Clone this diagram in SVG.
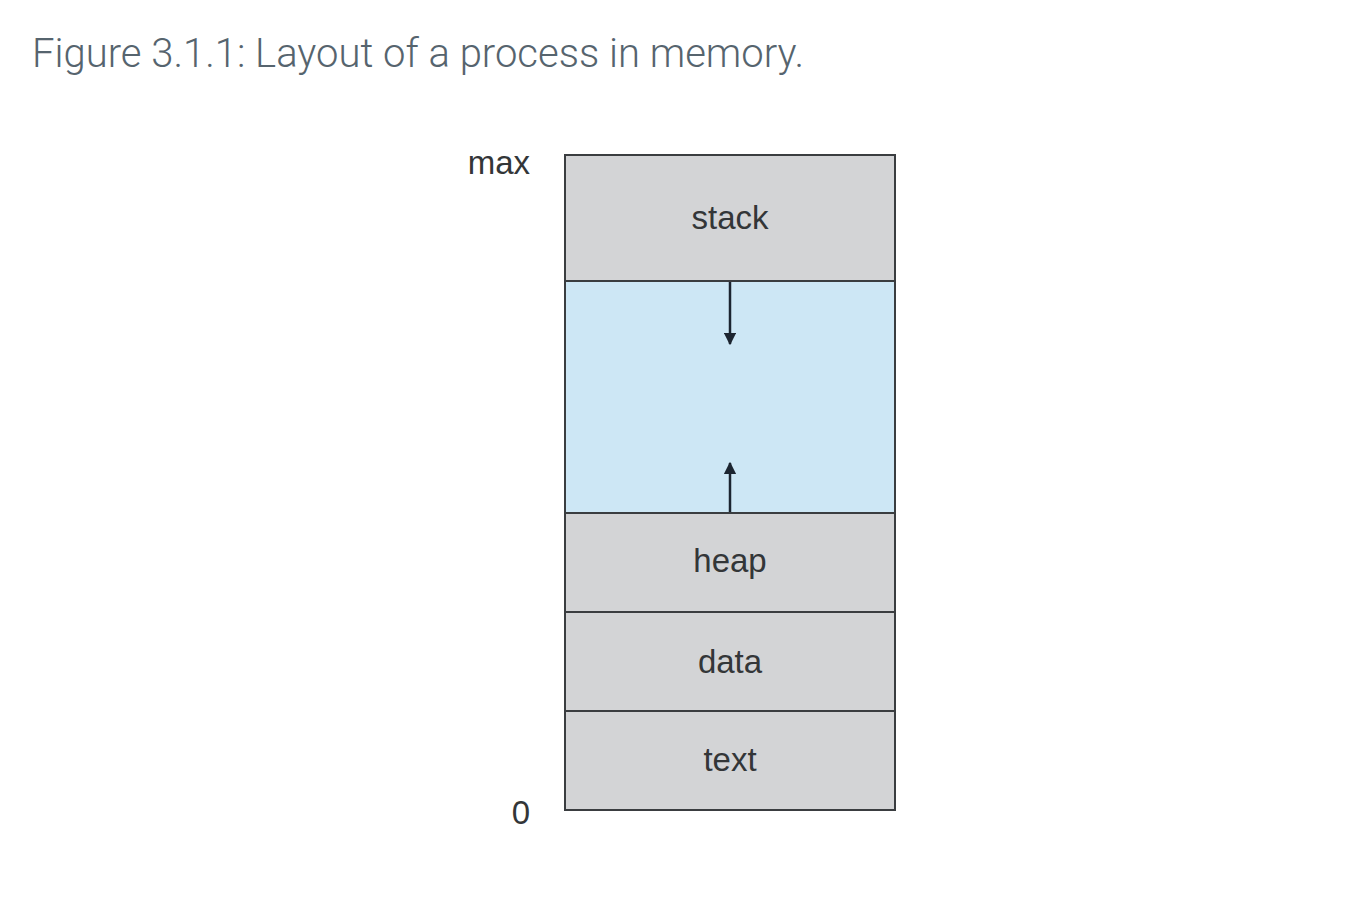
<svg xmlns="http://www.w3.org/2000/svg" width="1350" height="904" viewBox="0 0 1350 904">
<style>
.title{font-family:Roboto,"Liberation Sans",sans-serif;font-weight:300;font-size:40px;fill:#56646e}
.seg{fill:#d3d4d6;stroke:#3a3d40;stroke-width:2}
.free{fill:#cde7f5;stroke:#3a3d40;stroke-width:2}
.lbl{font-family:"Liberation Sans",Arial,sans-serif;font-size:33px;fill:#333638;text-anchor:middle}
.side{font-family:"Liberation Sans",Arial,sans-serif;font-size:33px;fill:#333638;text-anchor:end}
.arr{stroke:#1c2530;stroke-width:2.5;fill:none}
</style>
<defs>
<marker id="ah" viewBox="0 0 10 10" refX="9" refY="5" markerWidth="5" markerHeight="5" orient="auto" markerUnits="strokeWidth">
<path d="M0,0 L10,5 L0,10 z" fill="#1c2530"/>
</marker>
</defs>
<rect width="1350" height="904" fill="#ffffff"/>
<text class="title" x="32" y="67">Figure 3.1.1: Layout of a process in memory.</text>
<text class="side" x="530" y="174">max</text>
<text class="side" x="530" y="824">0</text>
<g id="stack"><rect class="seg" x="565" y="155" width="330" height="126"/><text class="lbl" x="730" y="229">stack</text></g>
<g id="free"><rect class="free" x="565" y="281" width="330" height="232"/></g>
<g id="heap"><rect class="seg" x="565" y="513" width="330" height="99"/><text class="lbl" x="730" y="572">heap</text></g>
<g id="data"><rect class="seg" x="565" y="612" width="330" height="99"/><text class="lbl" x="730" y="673">data</text></g>
<g id="text"><rect class="seg" x="565" y="711" width="330" height="99"/><text class="lbl" x="730" y="771">text</text></g>
<g id="connectors">
<line class="arr" x1="730" y1="282" x2="730" y2="344" marker-end="url(#ah)"/>
<line class="arr" x1="730" y1="512" x2="730" y2="463" marker-end="url(#ah)"/>
</g>
</svg>
